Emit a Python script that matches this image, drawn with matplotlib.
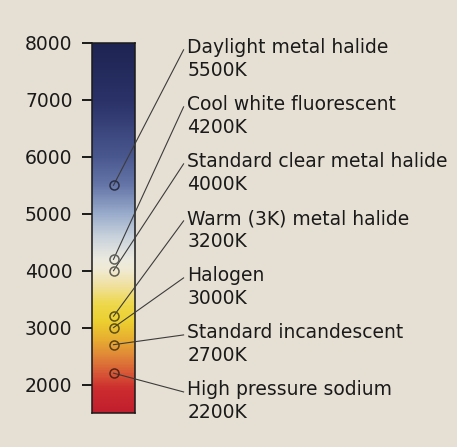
import matplotlib.pyplot as plt
import numpy as np
from matplotlib.colors import LinearSegmentedColormap, to_rgb

# lamp types and their colour temperatures
names = ["Daylight metal halide", "Cool white fluorescent",
         "Standard clear metal halide", "Warm (3K) metal halide",
         "Halogen", "Standard incandescent", "High pressure sodium"]
kelvin = [5500, 4200, 4000, 3200, 3000, 2700, 2200]
yticks = [2000, 3000, 4000, 5000, 6000, 7000, 8000]

# colour of the scale bar, temperature -> colour
stops = [1500, 1900, 2200, 2500, 2800, 3100, 3400, 3700, 4000, 4200,
         4600, 5000, 5500, 6000, 7000, 8000]
stop_colors = ["#c21e2e", "#cc2c2e", "#d85a36", "#e08838", "#e8b030",
               "#ecd030", "#eed84a", "#f0e098", "#f0ead2", "#eceae0",
               "#c8d2dc", "#9aaccc", "#6676a8", "#4a5890", "#2a3268",
               "#1e2452"]

lo, hi = 1500, 8000
bg = "#e6e0d4"
txt = "#1a1a1a"

cmap = LinearSegmentedColormap.from_list(
    "ct", [((s - lo) / (hi - lo), c) for s, c in zip(stops, stop_colors)])

fig = plt.figure(figsize=(4.57, 4.47), dpi=100, facecolor=bg)
ax = fig.add_axes([92 / 457, 1 - 413 / 447, 43 / 457, 370 / 447])

grad = np.linspace(lo, hi, 400).reshape(-1, 1)
ax.imshow(grad, extent=[0, 1, lo, hi], origin="lower", aspect="auto",
          cmap=cmap, vmin=lo, vmax=hi)
ax.set_xlim(0, 1)
ax.set_ylim(lo, hi)
ax.set_xticks([])
ax.set_yticks(yticks)
ax.set_yticklabels([str(t) for t in yticks])
ax.tick_params(axis="y", length=7.5, width=1.4, pad=6.5, labelsize=13.5,
               colors=txt)
for s in ax.spines.values():
    s.set_linewidth(1.1)
    s.set_color(txt)

# labels evenly spaced down the right side
label_y = np.linspace(7920, 1910, len(names))
for name, k, ly in zip(names, kelvin, label_y):
    c = np.array(to_rgb(cmap((k - lo) / (hi - lo)))) * 0.4
    ax.plot([0.5, 2.13], [k, ly - 40], color="#3c3c3c", lw=0.8,
            clip_on=False, zorder=3)
    ax.plot(0.5, k, "o", ms=6.5, mfc="none", mec=c, mew=1.1,
            clip_on=False, zorder=4)
    ax.text(2.22, ly, name, fontsize=13.5, color=txt, va="center", ha="left",
            clip_on=False)
    ax.text(2.22, ly - 405, f"{k}K", fontsize=13.5, color=txt, va="center",
            ha="left", clip_on=False)

plt.savefig("out.png", dpi=100, facecolor=bg)
